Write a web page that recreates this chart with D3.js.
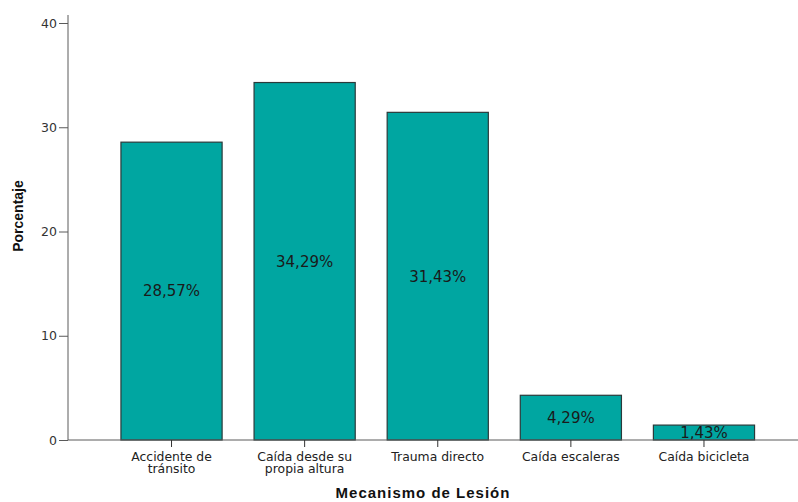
<!DOCTYPE html>
<html>
<head>
<meta charset="utf-8">
<script src="https://cdn.jsdelivr.net/npm/d3@7"></script>
<style>
  body { margin: 0; background: #fff; }
  svg { display: block; }
</style>
</head>
<body>
<svg id="chart" width="798" height="502"></svg>
<script>
// Mecanismo de lesión: porcentaje de casos por categoría
const categories = [
  ["Accidente de", "tránsito"],
  ["Caída desde su", "propia altura"],
  ["Trauma directo"],
  ["Caída escaleras"],
  ["Caída bicicleta"]
];
const percentages = [28.57, 34.29, 31.43, 4.29, 1.43];
const yTicks = [0, 10, 20, 30, 40];

const svg = d3.select("#chart");
const font = "'Liberation Sans', Arial, sans-serif";
const wideFont = "'DejaVu Sans', Verdana, sans-serif";
const axisColor = "#5a5a5a";

const y = d3.scaleLinear().domain([0, 40]).range([440, 23]);
const x = d3.scaleBand()
  .domain(d3.range(categories.length))
  .range([89, 786.5])
  .padding(0.24);

// Bars
svg.append("g").selectAll("rect")
  .data(percentages)
  .join("rect")
  .attr("x", (d, i) => x(i))
  .attr("y", d => y(d))
  .attr("width", x.bandwidth())
  .attr("height", d => y(0) - y(d))
  .attr("fill", "#00a6a1")
  .attr("stroke", "#2b3a3a")
  .attr("stroke-width", 1.2);

// Value labels centred in each bar
svg.append("g").selectAll("text")
  .data(percentages)
  .join("text")
  .attr("x", (d, i) => x(i) + x.bandwidth() / 2)
  .attr("y", d => (y(d) + y(0)) / 2)
  .attr("dy", "0.36em")
  .attr("text-anchor", "middle")
  .attr("font-family", wideFont)
  .attr("font-size", 15)
  .attr("fill", "#1a1a1a")
  .text(d => d.toFixed(2).replace(".", ",") + "%");

// Y axis
const yAxis = svg.append("g")
  .attr("transform", "translate(68,0)")
  .call(d3.axisLeft(y).tickValues(yTicks).tickSize(9).tickPadding(2));
yAxis.select(".domain").attr("d", `M0,${y(0)}V15`).attr("stroke", axisColor);
yAxis.selectAll(".tick line").attr("stroke", axisColor);
yAxis.selectAll(".tick text")
  .attr("font-family", wideFont).attr("font-size", 12.5).attr("fill", "#333");

// X axis line and ticks
svg.append("line")
  .attr("x1", 68).attr("x2", 798)
  .attr("y1", y(0)).attr("y2", y(0))
  .attr("stroke", axisColor);

const xTick = svg.append("g").selectAll("g")
  .data(categories)
  .join("g")
  .attr("transform", (d, i) => `translate(${x(i) + x.bandwidth() / 2},0)`);
xTick.append("line")
  .attr("y1", y(0)).attr("y2", y(0) + 7)
  .attr("stroke", "#333");
xTick.append("text")
  .attr("text-anchor", "middle")
  .attr("font-family", wideFont)
  .attr("font-size", 12.4)
  .attr("fill", "#222")
  .selectAll("tspan")
  .data(d => d)
  .join("tspan")
  .attr("x", 0)
  .attr("y", (d, j) => 460.5 + j * 12.5)
  .text(d => d);

// Axis titles
svg.append("text")
  .attr("x", 423).attr("y", 498)
  .attr("text-anchor", "middle")
  .attr("font-family", font)
  .attr("font-size", 15)
  .attr("font-weight", "bold")
  .attr("letter-spacing", 1)
  .attr("fill", "#111")
  .text("Mecanismo de Lesión");

svg.append("text")
  .attr("transform", "translate(23,216) rotate(-90)")
  .attr("text-anchor", "middle")
  .attr("font-family", font)
  .attr("font-size", 14)
  .attr("font-weight", "bold")
  .attr("fill", "#111")
  .text("Porcentaje");
</script>
</body>
</html>
